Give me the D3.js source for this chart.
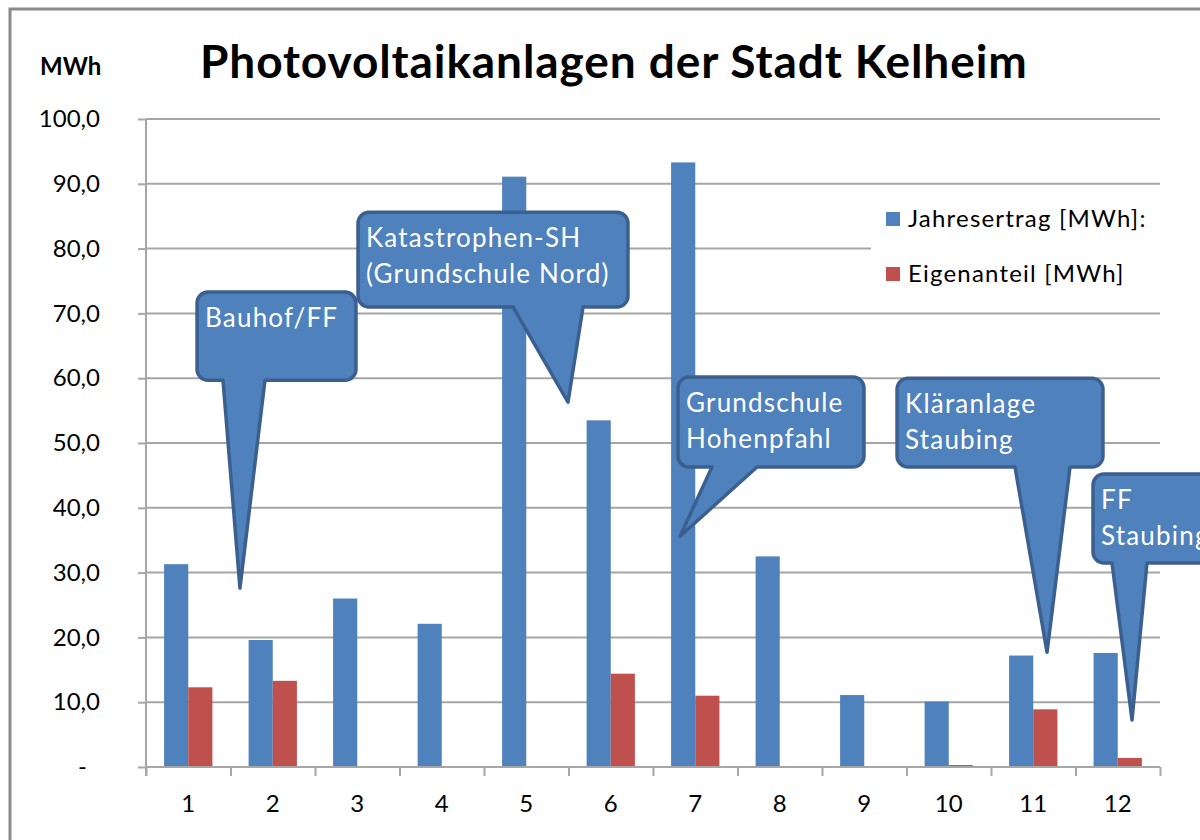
<!DOCTYPE html>
<html>
<head>
<meta charset="utf-8">
<script src="https://cdn.jsdelivr.net/npm/d3@7"></script>
<style>
  html, body { margin: 0; padding: 0; background: #fff; }
  svg { display: block; }
  text { font-family: Lato, "Open Sans", sans-serif; }
</style>
</head>
<body>
<svg id="chart" width="1200" height="840"></svg>
<script>
// ---------- data ----------
const categories = ["1","2","3","4","5","6","7","8","9","10","11","12"];
const jahresertrag = [31.3, 19.6, 26.0, 22.1, 91.1, 53.5, 93.3, 32.5, 11.1, 10.1, 17.2, 17.6];
const eigenanteil  = [12.3, 13.3, 0, 0, 0, 14.4, 11.0, 0, 0, 0.3, 8.9, 1.4];
const seriesNames = ["Jahresertrag [MWh]:", "Eigenanteil [MWh]"];
const yTicks = [0, 10, 20, 30, 40, 50, 60, 70, 80, 90, 100];
const titleText = "Photovoltaikanlagen der Stadt Kelheim";
const unitText = "MWh";
// callout annotations (in data units: x = category position, y = value)
const calloutLabels = [["Bauhof/FF"], ["Katastrophen-SH", "(Grundschule Nord)"], ["Grundschule", "Hohenpfahl"], ["Kläranlage", "Staubing"], ["FF", "Staubing"]];
const calloutBoxX = [[1.104, 2.985], [3.009, 6.204], [6.796, 8.997], [9.388, 11.825], [11.707, 13.7]];
const calloutBoxY = [[73.3, 59.7], [85.6, 71.0], [60.2, 46.3], [60.0, 46.3], [45.2, 31.5]];
const calloutBase = [[1.411, 1.908], [4.843, 5.672], [7.198, 7.731], [10.784, 11.435], [11.932, 12.346]];
const calloutTip  = [[1.612, 27.6], [5.494, 56.3], [6.820, 35.6], [11.163, 17.7], [12.169, 7.25]];

// ---------- layout ----------
const blue = "#4F81BD", red = "#C0504D";
const margin = {left: 146, right: 40, top: 119, bottom: 73};
const W = 1200, H = 840;
const plotR = W - margin.right, plotB = H - margin.bottom;

const svg = d3.select("#chart");
svg.append("rect").attr("x", 10).attr("y", 9).attr("width", 1300).attr("height", 1000)
   .attr("fill", "#fff").attr("stroke", "#8a8a8a").attr("stroke-width", 3);

const x = d3.scaleBand().domain(categories).range([margin.left, plotR]).paddingInner(0).paddingOuter(0);
const xc = d3.scaleLinear().domain([0.5, categories.length + 0.5]).range([margin.left, plotR]);
const y = d3.scaleLinear().domain([0, 100]).range([plotB, margin.top]);

// gridlines
svg.append("g").selectAll("line").data(yTicks.filter(d => d > 0)).join("line")
   .attr("x1", margin.left).attr("x2", plotR)
   .attr("y1", d => y(d)).attr("y2", d => y(d))
   .attr("stroke", "#a6a6a6").attr("stroke-width", 2);

// bars
const bw = x.bandwidth() / 3.5;
const gap = (x.bandwidth() - 2 * bw) / 2;
const bars = svg.append("g");
bars.selectAll("rect.j").data(jahresertrag).join("rect").attr("class", "j")
   .attr("x", (d, i) => x(categories[i]) + gap).attr("width", bw)
   .attr("y", d => y(d)).attr("height", d => y(0) - y(d)).attr("fill", blue);
bars.selectAll("rect.e").data(eigenanteil).join("rect").attr("class", "e")
   .attr("x", (d, i) => x(categories[i]) + gap + bw).attr("width", bw)
   .attr("y", d => y(d)).attr("height", d => y(0) - y(d)).attr("fill", red);

// y axis
const fmt = d => d === 0 ? "-" : d.toFixed(1).replace(".", ",");
const yAxis = svg.append("g").attr("transform", `translate(${margin.left},0)`)
   .call(d3.axisLeft(y).tickValues(yTicks).tickFormat(fmt).tickSize(8).tickPadding(38));
yAxis.select(".domain").attr("d", `M0,${margin.top}V${plotB + 9}`).attr("stroke", "#a6a6a6").attr("stroke-width", 2);
yAxis.selectAll(".tick line").attr("stroke", "#a6a6a6").attr("stroke-width", 2);
yAxis.selectAll(".tick text").attr("font-size", 24).attr("fill", "#000");
yAxis.selectAll(".tick text").filter(d => d === 0).attr("dx", -13);

// x axis: boundary ticks
const xTickAxis = svg.append("g").attr("transform", `translate(0,${plotB})`)
   .call(d3.axisBottom(xc).tickValues(d3.range(0.5, categories.length + 1, 1)).tickFormat("").tickSize(9));
xTickAxis.select(".domain").attr("d", `M${margin.left},0H${plotR}`).attr("stroke", "#a6a6a6").attr("stroke-width", 2);
xTickAxis.selectAll(".tick line").attr("stroke", "#a6a6a6").attr("stroke-width", 2);
// x labels
const xAxis = svg.append("g").attr("transform", `translate(0,${plotB})`)
   .call(d3.axisBottom(x).tickSize(0).tickPadding(28));
xAxis.select(".domain").remove();
xAxis.selectAll(".tick text").attr("font-size", 24).attr("fill", "#000");

// title and unit
svg.append("text").attr("x", 200).attr("y", 78).attr("font-size", 46).attr("font-weight", "bold")
   .attr("letter-spacing", 0.9).attr("fill", "#000").text(titleText);
svg.append("text").attr("x", 40).attr("y", 75).attr("font-size", 24).attr("font-weight", "bold")
   .attr("fill", "#000").text(unitText);

// legend
const lg = svg.append("g");
lg.append("rect").attr("x", 871).attr("y", 192).attr("width", plotR - 871).attr("height", 114).attr("fill", "#fff");
const lcol = [blue, red];
seriesNames.forEach((s, i) => {
  const ty = 227 + i * 55;
  lg.append("rect").attr("x", 886).attr("y", ty - 15).attr("width", 14).attr("height", 14).attr("fill", lcol[i]);
  lg.append("text").attr("x", 908).attr("y", ty).attr("font-size", 24).attr("letter-spacing", 1.2)
    .attr("fill", "#000").text(s);
});

// callouts
const cg = svg.append("g");
calloutLabels.forEach((lines, i) => {
  const x0 = xc(calloutBoxX[i][0]), x1 = xc(calloutBoxX[i][1]);
  const y0 = y(calloutBoxY[i][0]), y1 = y(calloutBoxY[i][1]);
  const bl = xc(calloutBase[i][0]), br = xc(calloutBase[i][1]);
  const tx = xc(calloutTip[i][0]), ty = y(calloutTip[i][1]);
  const r = 11;
  const p = `M${x0 + r},${y0}H${x1 - r}A${r},${r} 0 0 1 ${x1},${y0 + r}V${y1 - r}A${r},${r} 0 0 1 ${x1 - r},${y1}`
          + `H${br}L${tx},${ty}L${bl},${y1}H${x0 + r}A${r},${r} 0 0 1 ${x0},${y1 - r}V${y0 + r}A${r},${r} 0 0 1 ${x0 + r},${y0}Z`;
  cg.append("path").attr("d", p).attr("fill", blue).attr("stroke", "#3B6090").attr("stroke-width", 3.5)
    .attr("stroke-linejoin", "round");
  lines.forEach((t, j) => {
    cg.append("text").attr("x", x0 + 8).attr("y", y0 + 35 + j * 36).attr("font-size", 26)
      .attr("letter-spacing", 1.2).attr("fill", "#fff").text(t);
  });
});
</script>
</body>
</html>
